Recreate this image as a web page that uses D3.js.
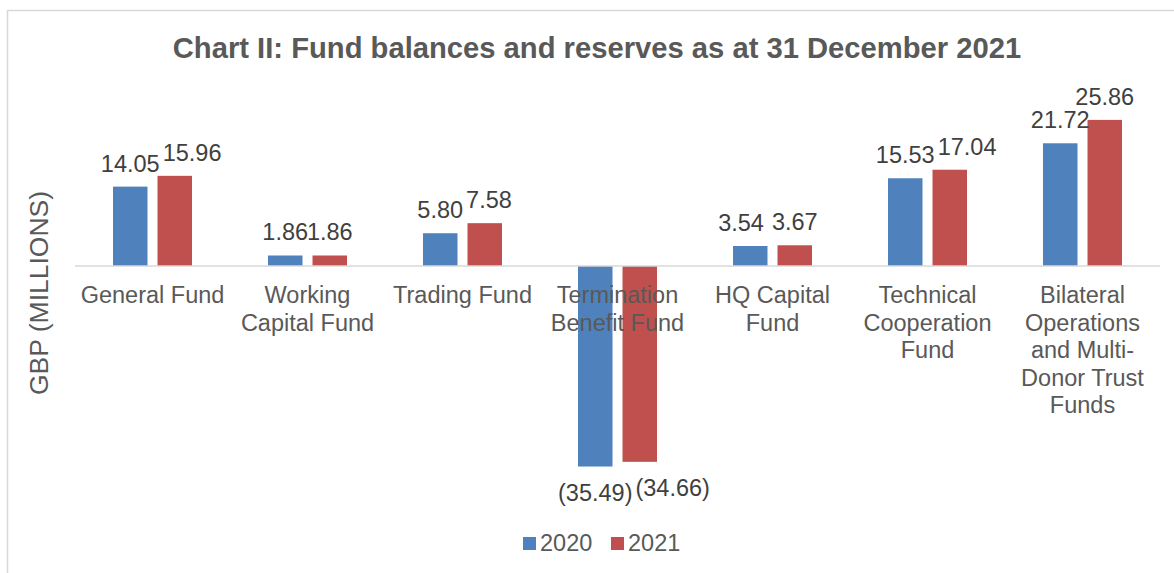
<!DOCTYPE html>
<html>
<head>
<meta charset="utf-8">
<script src="https://cdn.jsdelivr.net/npm/d3@7"></script>
<style>
  body { margin: 0; background: #fff; }
  svg { display: block; font-family: "Liberation Sans", Arial, sans-serif; }
</style>
</head>
<body>
<div id="chart"></div>
<script>
'use strict'
// data
var categories = [
  'General Fund',
  'Working Capital Fund',
  'Trading Fund',
  'Termination Benefit Fund',
  'HQ Capital Fund',
  'Technical Cooperation Fund',
  'Bilateral Operations and Multi-Donor Trust Funds'
]
var seriesNames = ['2020', '2021']
var values2020 = [14.05, 1.86, 5.80, -35.49, 3.54, 15.53, 21.72]
var values2021 = [15.96, 1.86, 7.58, -34.66, 3.67, 17.04, 25.86]
var colors = ['#4F81BD', '#C0504D']

var W = 1174, H = 573
var svg = d3.select('#chart').append('svg').attr('width', W).attr('height', H)

// frame
svg.append('rect')
  .attr('x', 7.5).attr('y', 10.5)
  .attr('width', W + 20).attr('height', H + 20)
  .attr('fill', 'none').attr('stroke', '#d9d9d9').attr('stroke-width', 1.5)

// title
svg.append('text')
  .attr('x', 597).attr('y', 58)
  .attr('text-anchor', 'middle')
  .attr('font-size', 29.2).attr('font-weight', 'bold')
  .attr('fill', '#595959')
  .text('Chart II: Fund balances and reserves as at 31 December 2021')

// scales
var x0 = d3.scaleBand().domain(categories).range([75, 1160])
var x1 = d3.scaleBand().domain(seriesNames).range([0, x0.bandwidth()])
  .paddingInner(0.225).paddingOuter(0.854)
var y = d3.scaleLinear().domain([-40, 30]).range([492, 96.5])

var rows = categories.map((c, i) => ({
  cat: c,
  vals: [values2020[i], values2021[i]]
}))

// bars
var groups = svg.append('g').selectAll('g')
  .data(rows).enter().append('g')
  .attr('transform', d => `translate(${x0(d.cat)},0)`)

groups.selectAll('rect')
  .data(d => d.vals.map((v, j) => ({ key: seriesNames[j], v: v, j: j })))
  .enter().append('rect')
  .attr('x', d => x1(d.key))
  .attr('width', x1.bandwidth())
  .attr('y', d => y(Math.max(0, d.v)))
  .attr('height', d => Math.abs(y(d.v) - y(0)))
  .attr('fill', d => colors[d.j])

// zero line
svg.append('line')
  .attr('x1', x0.range()[0]).attr('x2', x0.range()[1])
  .attr('y1', y(0)).attr('y2', y(0))
  .attr('stroke', '#d9d9d9').attr('stroke-width', 1.5)

// value labels
function fmt (v) {
  var s = Math.abs(v).toFixed(2)
  return v < 0 ? `(${s})` : s
}
groups.each(function (d) {
  var g = d3.select(this)
  var labels = d.vals.map((v, j) => g.append('text')
    .attr('x', x1(seriesNames[j]) + x1.bandwidth() / 2)
    .attr('y', v < 0 ? y(v) + 34 : y(v) - 15)
    .attr('text-anchor', 'middle')
    .attr('font-size', 23.5)
    .attr('fill', '#404040')
    .text(fmt(v)))
  // push labels apart if they collide
  var a = labels[0].node().getBBox()
  var b = labels[1].node().getBBox()
  var vOver = a.y < b.y + b.height - 4 && b.y < a.y + a.height - 4
  var hOver = a.x + a.width - b.x
  if (hOver > 0 && Math.abs(a.y - b.y) < 4) {
    // same height: nudge the first one left (unless identical values)
    if (d.vals[0] !== d.vals[1]) labels[0].attr('x', +labels[0].attr('x') - hOver - 8)
  } else if (vOver && hOver > 0) {
    labels[1].attr('x', +labels[1].attr('x') + hOver + 3)
  }
})

// category labels with wrapping
function wrap (textSel, width) {
  textSel.each(function () {
    var text = d3.select(this)
    var words = text.text().replace(/-/g, '- ').split(/\s+/).filter(w => w)
    var cx = text.attr('x'), y0 = +text.attr('y')
    text.text(null)
    var lines = [], line = ''
    var probe = text.append('tspan')
    words.forEach(w => {
      var join = line === '' ? w : (line.endsWith('-') ? line + w : line + ' ' + w)
      probe.text(join)
      if (line !== '' && probe.node().getComputedTextLength() > width) {
        lines.push(line)
        line = w
      } else {
        line = join
      }
    })
    lines.push(line)
    probe.remove()
    lines.forEach((l, i) => {
      text.append('tspan').attr('x', cx).attr('y', y0 + i * 27.5).text(l)
    })
  })
}

svg.append('g').selectAll('text')
  .data(categories).enter().append('text')
  .attr('x', d => x0(d) + x0.bandwidth() / 2)
  .attr('y', 303)
  .attr('text-anchor', 'middle')
  .attr('font-size', 23.5)
  .attr('fill', '#595959')
  .text(d => d)
  .call(wrap, 152)

// y axis title
svg.append('text')
  .attr('transform', 'translate(48,293) rotate(-90)')
  .attr('text-anchor', 'middle')
  .attr('font-size', 26.5)
  .attr('fill', '#595959')
  .text('GBP (MILLIONS)')

// legend
var legend = svg.append('g').attr('transform', 'translate(523,537)')
var items = legend.selectAll('g').data(seriesNames).enter().append('g')
  .attr('transform', (d, i) => `translate(${i * 88},0)`)
items.append('rect').attr('width', 13).attr('height', 13)
  .attr('fill', (d, i) => colors[i])
items.append('text').attr('x', 17).attr('y', 14)
  .attr('font-size', 23.5).attr('fill', '#595959')
  .text(d => d)
</script>
</body>
</html>
